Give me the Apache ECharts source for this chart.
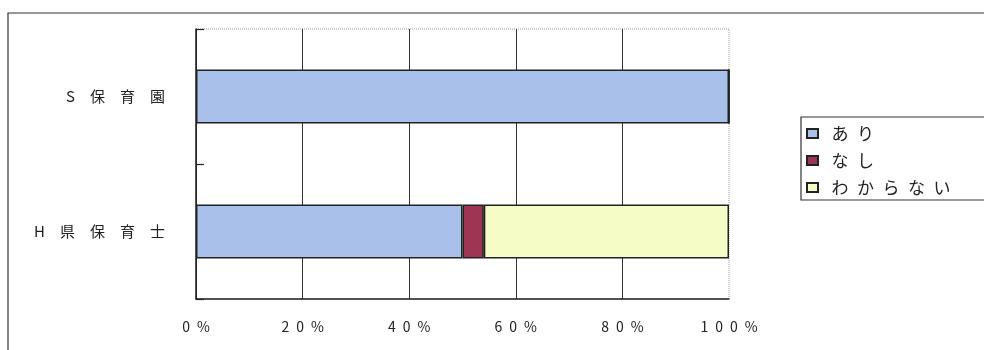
<!DOCTYPE html>
<html>
<head>
<meta charset="utf-8">
<script src="https://cdn.jsdelivr.net/npm/echarts@6/dist/echarts.min.js"></script>
<style>
  html, body { margin: 0; padding: 0; background: #fff; }
  #chart { width: 984px; height: 350px; }
</style>
</head>
<body>
<div id="chart"></div>
<script>
// Respondent groups (top to bottom)
const categories = ['S保育園', 'H県保育士'];
// Share of answers, percent
const seriesNames = ['あり', 'なし', 'わからない'];
const ariValues = [100, 50];
const nashiValues = [0, 4];
const wakaranaiValues = [0, 46];
// Horizontal axis tick labels
const xTickLabels = ['0%', '20%', '40%', '60%', '80%', '100%'];

const colors = ['#a9c0ea', '#9c3652', '#f5fcc6'];
const font = '"Noto Sans CJK JP", "Noto Sans", sans-serif';

const chart = echarts.init(document.getElementById('chart'));

// Letter-spaced text, as the labels are set in the printed figure
function spaced(s, sep) { return s.split('').join(sep); }

const seriesData = [ariValues, nashiValues, wakaranaiValues];

chart.setOption({
  animation: false,
  backgroundColor: '#fff',
  graphic: [{
    type: 'rect',
    shape: { x: 8, y: 13, width: 1000, height: 400 },
    style: { fill: 'none', stroke: '#333', lineWidth: 1.2 },
    silent: true
  }],
  grid: {
    left: 196, right: 255, top: 29, bottom: 51,
    show: true,
    borderColor: '#999',
    borderWidth: 1,
    borderType: 'dotted'
  },
  legend: {
    orient: 'vertical',
    left: 801, top: 117,
    padding: [6, 80, 2, 5],
    itemGap: 6,
    itemWidth: 11, itemHeight: 9,
    icon: 'rect',
    borderColor: '#333', borderWidth: 1.2,
    formatter: function (name) { return '\u2002' + spaced(name, '\u2002'); },
    textStyle: { fontFamily: font, fontSize: 17, color: '#222', lineHeight: 21 },
    data: seriesNames
  },
  xAxis: {
    type: 'value',
    min: 0, max: 100, interval: 20,
    axisLine: { show: true, lineStyle: { color: '#222', width: 1.5 } },
    axisTick: { show: false },
    splitLine: { show: true, showMaxLine: false, lineStyle: { color: '#333', width: 1 } },
    axisLabel: {
      margin: 21,
      fontFamily: font, fontSize: 14, color: '#222',
      formatter: function (v) { return spaced(xTickLabels[Math.round(v / 20)], '\u2002'); }
    }
  },
  yAxis: {
    type: 'category',
    inverse: true,
    data: categories,
    axisLine: { show: true, lineStyle: { color: '#222', width: 1.5 } },
    axisTick: { show: true, inside: true, length: 8, lineStyle: { color: '#222', width: 1.2 } },
    axisLabel: {
      margin: 31, fontFamily: font, fontSize: 15, color: '#222',
      formatter: function (v) { return spaced(v, '\u3000'); }
    }
  },
  series: seriesNames.map(function (name, i) {
    return {
      name: name,
      type: 'bar',
      stack: 'total',
      barWidth: 54,
      data: seriesData[i],
      itemStyle: { color: colors[i], borderColor: '#222', borderWidth: 1.5 }
    };
  })
});
</script>
</body>
</html>
